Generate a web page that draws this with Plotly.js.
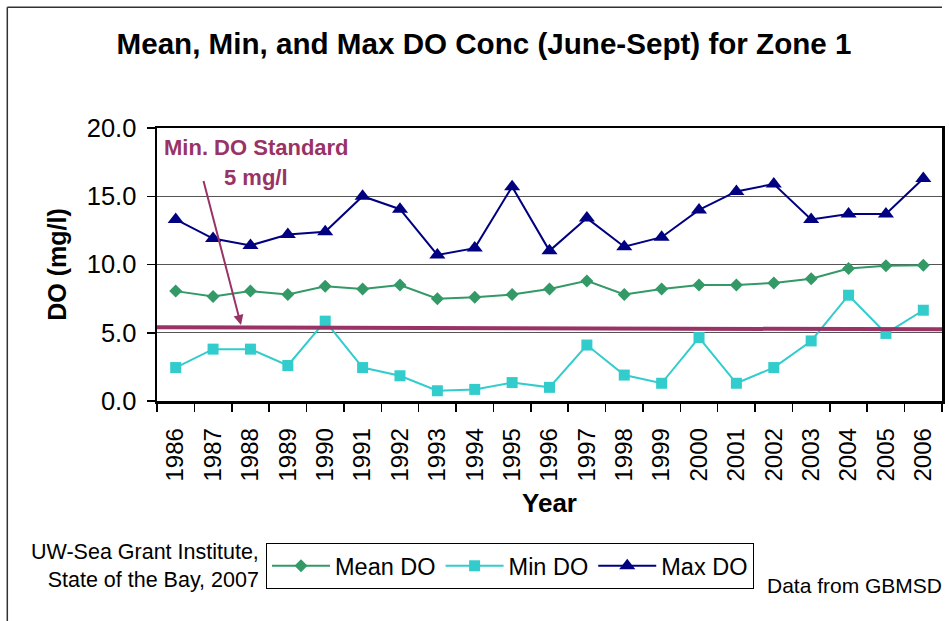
<!DOCTYPE html>
<html>
<head>
<meta charset="utf-8">
<script src="https://cdn.plot.ly/plotly-3.0.1.min.js"></script>
<style>html,body{margin:0;padding:0;background:#fff;}#chart{width:949px;height:621px;}</style>
</head>
<body>
<div id="chart"></div>
<script>
// ---- data ----
const years = ['1986','1987','1988','1989','1990','1991','1992','1993','1994','1995','1996','1997','1998','1999','2000','2001','2002','2003','2004','2005','2006'];
const meanDO = [8.05,7.65,8.05,7.8,8.4,8.2,8.5,7.5,7.6,7.8,8.2,8.8,7.8,8.2,8.5,8.5,8.65,8.95,9.7,9.9,9.95];
const minDO  = [2.45,3.8,3.8,2.6,5.85,2.45,1.85,0.75,0.85,1.35,1.0,4.1,1.9,1.3,4.65,1.3,2.45,4.4,7.75,4.95,6.65];
const maxDO  = [13.3,11.9,11.4,12.2,12.4,15.0,14.05,10.7,11.2,15.7,11.0,13.4,11.3,12.0,14.0,15.35,15.9,13.3,13.7,13.7,16.3];
const seriesNames = ['Mean DO','Min DO','Max DO'];
const standardStart = 5.4;
const standardEnd = 5.25;
const yTicks = [0,5,10,15,20];

// ---- layout helpers (pixel -> paper) ----
const W = 949, H = 621;
const M = {l:157, r:7, t:128, b:220};
const PW = W - M.l - M.r, PH = H - M.t - M.b;
const X = px => (px - M.l) / PW;
const Y = py => (H - M.b - py) / PH;

const FONT = 'Arial, "Liberation Sans", sans-serif';
const plum = '#993366';

const traces = [
  {x: years, y: meanDO, name: seriesNames[0], type: 'scatter', mode: 'lines+markers',
   line: {color: '#339966', width: 2}, marker: {symbol: 'diamond', size: 10, color: '#339966'}},
  {x: years, y: minDO, name: seriesNames[1], type: 'scatter', mode: 'lines+markers',
   line: {color: '#33CCCC', width: 2}, marker: {symbol: 'square', size: 11, color: '#33CCCC'}},
  {x: years, y: maxDO, name: seriesNames[2], type: 'scatter', mode: 'lines+markers',
   line: {color: '#000080', width: 2}, marker: {symbol: 'triangle-up', size: 14, color: '#000080'}}
];

const layout = {
  width: W, height: H,
  margin: M,
  paper_bgcolor: '#fff', plot_bgcolor: '#fff',
  font: {family: FONT, color: '#000'},
  showlegend: true,
  title: {text: '<b>Mean, Min, and Max DO Conc (June-Sept) for Zone 1</b>',
          font: {family: FONT, size: 29.6, color: '#000'},
          xref: 'container', yref: 'container', x: 484/W, y: 1 - 43.5/H,
          xanchor: 'center', yanchor: 'middle'},
  xaxis: {type: 'category', range: [-0.5, years.length - 0.5], autorange: false,
          showline: true, mirror: true, linecolor: '#000', linewidth: 2.5,
          ticks: 'outside', tickson: 'boundaries', ticklen: 8, tickcolor: '#000', tickwidth: 1.5,
          tickangle: -90, tickfont: {size: 24, family: FONT, color: '#000'},
          ticklabelstandoff: 15,
          showgrid: false, zeroline: false, fixedrange: true,
          title: {text: '<b>Year</b>', font: {size: 26, family: FONT, color: '#000'}, standoff: 14}},
  yaxis: {range: [0, 20], autorange: false, tickvals: yTicks, tickformat: '.1f',
          showline: true, mirror: true, linecolor: '#000', linewidth: 2.5,
          ticks: 'outside', ticklen: 8, tickcolor: '#000', tickwidth: 1.5,
          tickfont: {size: 25.5, family: FONT, color: '#000'},
          ticklabelstandoff: 5,
          showgrid: true, gridcolor: '#555', gridwidth: 1, zeroline: false, fixedrange: true,
          title: {text: '<b>DO (mg/l)</b>', font: {size: 25, family: FONT, color: '#000'}, standoff: 13}},
  legend: {orientation: 'h', x: X(266), y: Y(543), xanchor: 'left', yanchor: 'top',
           bordercolor: '#000', borderwidth: 1, bgcolor: '#fff',
           font: {size: 23.5, family: FONT, color: '#000'}, itemwidth: 58},
  shapes: [
    {type: 'line', xref: 'paper', yref: 'y', x0: 0, x1: 1, y0: standardStart, y1: standardEnd,
     line: {color: plum, width: 4}},
    {type: 'line', xref: 'paper', yref: 'paper', x0: X(7.3), x1: X(7.3), y0: Y(7.3), y1: Y(640),
     line: {color: '#333', width: 1.5}},
    {type: 'line', xref: 'paper', yref: 'paper', x0: X(7.3), x1: X(942), y0: Y(7.3), y1: Y(7.3),
     line: {color: '#333', width: 1.5}}
  ],
  annotations: [
    {text: '<b>Min. DO Standard</b>', xref: 'paper', yref: 'paper', x: X(256), y: Y(147),
     xanchor: 'center', yanchor: 'middle', showarrow: false, font: {size: 22, color: plum, family: FONT}},
    {text: '<b>5 mg/l</b>', xref: 'paper', yref: 'paper', x: X(256), y: Y(177),
     xanchor: 'center', yanchor: 'middle', showarrow: false, font: {size: 22, color: plum, family: FONT}},
    {text: ' ', xref: 'paper', yref: 'paper', x: X(241), y: Y(325), showarrow: true,
     ax: -38, ay: -146, arrowhead: 2, arrowsize: 1, arrowwidth: 2, arrowcolor: plum,
     font: {size: 1}},
    {text: 'UW-Sea Grant Institute,<br>State of the Bay, 2007', xref: 'paper', yref: 'paper',
     x: X(261), y: Y(566), xanchor: 'right', yanchor: 'middle', align: 'right', showarrow: false,
     font: {size: 21.5, color: '#000', family: FONT}},
    {text: 'Data from GBMSD', xref: 'paper', yref: 'paper',
     x: X(765), y: Y(585), xanchor: 'left', yanchor: 'middle', showarrow: false,
     font: {size: 21, color: '#000', family: FONT}}
  ]
};

Plotly.newPlot('chart', traces, layout, {staticPlot: true, displayModeBar: false});
</script>
</body>
</html>
